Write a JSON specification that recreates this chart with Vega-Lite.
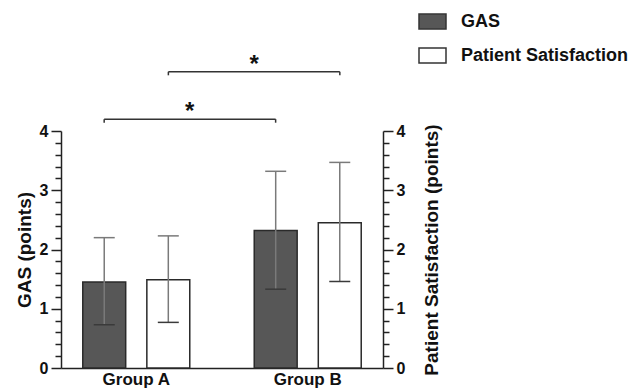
{
  "$schema": "https://vega.github.io/schema/vega-lite/v6.json",
  "width": 322,
  "height": 237,
  "autosize": {"type": "none"},
  "padding": {"left": 61, "top": 131, "right": 255, "bottom": 21},
  "background": "white",
  "config": {"view": {"stroke": null}, "font": "Liberation Sans"},
  "datasets": {
    "bars": [
      {"group": "Group A", "measure": "GAS", "mean": 1.45, "lo": 0.73, "hi": 2.2},
      {"group": "Group A", "measure": "Patient Satisfaction", "mean": 1.49, "lo": 0.77, "hi": 2.23},
      {"group": "Group B", "measure": "GAS", "mean": 2.32, "lo": 1.33, "hi": 3.32},
      {"group": "Group B", "measure": "Patient Satisfaction", "mean": 2.45, "lo": 1.46, "hi": 3.47}
    ],
    "brGAS": [{"from": "Group A", "to": "Group B", "y": 4.2, "yEnd": 4.14}],
    "brGASends": [{"g": "Group A", "y": 4.2, "yEnd": 4.14}, {"g": "Group B", "y": 4.2, "yEnd": 4.14}],
    "brPS": [{"from": "Group A", "to": "Group B", "y": 5.0, "yEnd": 4.94}],
    "brPSends": [{"g": "Group A", "y": 5.0, "yEnd": 4.94}, {"g": "Group B", "y": 5.0, "yEnd": 4.94}]
  },
  "layer": [
    {
      "layer": [
        {
          "data": {"name": "bars"},
          "mark": {"type": "bar", "stroke": "#2a2a2a", "strokeWidth": 1.5},
          "encoding": {
            "x": {
              "field": "group", "type": "nominal", "title": null,
              "scale": {"paddingInner": 0.376, "paddingOuter": 0.127},
              "axis": {"domainColor": "#222", "domainWidth": 1.5, "ticks": false, "labelFontSize": 17, "labelFontWeight": "bold", "labelPadding": 3, "labelAngle": 0, "labelColor": "#111", "labelFont": "Liberation Sans"}
            },
            "xOffset": {
              "field": "measure", "type": "nominal", "sort": ["GAS", "Patient Satisfaction"],
              "scale": {"paddingInner": 0.33, "paddingOuter": 0}
            },
            "y": {
              "field": "mean", "type": "quantitative", "title": "GAS (points)",
              "scale": {"domain": [0, 4], "nice": false},
              "axis": {
                "values": [0, 1, 2, 3, 4], "format": "d",
                "labelOverlap": false, "labelFlush": false,
                "tickSize": 10,
                "grid": false, "domainColor": "#222", "domainWidth": 1.5, "tickColor": "#222", "tickWidth": 1.5,
                "labelFont": "Liberation Sans", "labelFontSize": 16, "labelFontWeight": "bold", "labelColor": "#111", "labelPadding": 3,
                "titleFont": "Liberation Sans", "titleFontSize": 19, "titleFontWeight": "bold", "titleColor": "#111", "titlePadding": 5
              }
            },
            "fill": {
              "field": "measure", "type": "nominal",
              "scale": {"domain": ["GAS", "Patient Satisfaction"], "range": ["#575757", "#ffffff"]},
              "legend": {
                "orient": "none", "legendX": 357, "legendY": -124, "title": null,
                "symbolType": "M-1,-0.55H1V0.55H-1Z", "symbolSize": 729,
                "symbolStrokeColor": "#333", "symbolStrokeWidth": 1.5,
                "labelFont": "Liberation Sans", "labelFontSize": 18, "labelFontWeight": "bold", "labelColor": "#111",
                "labelLimit": 400,
                "rowPadding": 9, "labelOffset": 14, "padding": 0
              }
            }
          }
        },
        {
          "data": {"name": "bars"},
          "mark": {"type": "rule", "color": "#7a7a7a", "strokeWidth": 1.5},
          "encoding": {
            "x": {"field": "group", "type": "nominal", "title": null},
            "xOffset": {"field": "measure", "type": "nominal", "sort": ["GAS", "Patient Satisfaction"]},
            "y": {"field": "lo", "type": "quantitative", "title": "GAS (points)"},
            "y2": {"field": "hi"}
          }
        },
        {
          "data": {"name": "bars"},
          "mark": {"type": "tick", "orient": "horizontal", "size": 21, "thickness": 1.5, "color": "#7a7a7a", "opacity": 1},
          "encoding": {
            "x": {"field": "group", "type": "nominal", "title": null},
            "xOffset": {"field": "measure", "type": "nominal", "sort": ["GAS", "Patient Satisfaction"]},
            "y": {"field": "hi", "type": "quantitative", "title": "GAS (points)"}
          }
        },
        {
          "data": {"name": "bars"},
          "mark": {"type": "tick", "orient": "horizontal", "size": 21, "thickness": 1.5, "color": "#3a3a3a", "opacity": 1},
          "encoding": {
            "x": {"field": "group", "type": "nominal", "title": null},
            "xOffset": {"field": "measure", "type": "nominal", "sort": ["GAS", "Patient Satisfaction"]},
            "y": {"field": "lo", "type": "quantitative", "title": "GAS (points)"}
          }
        },
        {
          "data": {"name": "brGAS"},
          "mark": {"type": "rule", "color": "#333", "strokeWidth": 1.5},
          "encoding": {
            "x": {"field": "from", "type": "nominal", "bandPosition": 0.2, "title": null},
            "x2": {"field": "to", "bandPosition": 0.2},
            "y": {"field": "y", "type": "quantitative", "title": "GAS (points)"}
          }
        },
        {
          "data": {"name": "brGASends"},
          "mark": {"type": "rule", "color": "#333", "strokeWidth": 1.5},
          "encoding": {
            "x": {"field": "g", "type": "nominal", "bandPosition": 0.2, "title": null},
            "y": {"field": "y", "type": "quantitative", "title": "GAS (points)"},
            "y2": {"field": "yEnd"}
          }
        },
        {
          "data": {"name": "brGAS"},
          "mark": {"type": "text", "text": "*", "fontSize": 24, "fontWeight": "bold", "baseline": "alphabetic", "color": "#111", "font": "Liberation Sans"},
          "encoding": {
            "x": {"field": "from", "type": "nominal", "bandPosition": 1, "title": null},
            "y": {"field": "y", "type": "quantitative", "title": "GAS (points)"}
          }
        },
        {
          "data": {"name": "brPS"},
          "mark": {"type": "rule", "color": "#333", "strokeWidth": 1.5},
          "encoding": {
            "x": {"field": "from", "type": "nominal", "bandPosition": 0.8, "title": null},
            "x2": {"field": "to", "bandPosition": 0.8},
            "y": {"field": "y", "type": "quantitative", "title": "GAS (points)"}
          }
        },
        {
          "data": {"name": "brPSends"},
          "mark": {"type": "rule", "color": "#333", "strokeWidth": 1.5},
          "encoding": {
            "x": {"field": "g", "type": "nominal", "bandPosition": 0.8, "title": null},
            "y": {"field": "y", "type": "quantitative", "title": "GAS (points)"},
            "y2": {"field": "yEnd"}
          }
        },
        {
          "data": {"name": "brPS"},
          "mark": {"type": "text", "text": "*", "fontSize": 24, "fontWeight": "bold", "baseline": "alphabetic", "color": "#111", "font": "Liberation Sans"},
          "encoding": {
            "x": {"field": "to", "type": "nominal", "bandPosition": 0, "title": null},
            "y": {"field": "y", "type": "quantitative", "title": "GAS (points)"}
          }
        }
      ]
    },
    {
      "data": {"name": "bars"},
      "mark": {"type": "tick", "opacity": 0},
      "encoding": {
        "y": {
          "field": "mean", "type": "quantitative", "title": null,
          "scale": {"domain": [0, 4], "nice": false},
          "axis": {
            "orient": "left",
            "values": [0.2, 0.4, 0.6, 0.8, 1.2, 1.4, 1.6, 1.8, 2.2, 2.4, 2.6, 2.8, 3.2, 3.4, 3.6, 3.8],
            "labels": false, "domain": false, "grid": false,
            "tickSize": 6, "tickColor": "#222", "tickWidth": 1.5
          }
        }
      }
    },
    {
      "data": {"name": "bars"},
      "mark": {"type": "tick", "opacity": 0},
      "encoding": {
        "y": {
          "field": "mean", "type": "quantitative", "title": null,
          "scale": {"domain": [0, 4], "nice": false},
          "axis": {
            "orient": "right",
            "values": [0.2, 0.4, 0.6, 0.8, 1.2, 1.4, 1.6, 1.8, 2.2, 2.4, 2.6, 2.8, 3.2, 3.4, 3.6, 3.8],
            "labels": false, "domain": false, "grid": false,
            "tickSize": 6, "tickColor": "#222", "tickWidth": 1.5
          }
        }
      }
    },
    {
      "data": {"name": "bars"},
      "mark": {"type": "tick", "opacity": 0},
      "encoding": {
        "y": {
          "field": "mean", "type": "quantitative", "title": "Patient Satisfaction (points)",
          "scale": {"domain": [0, 4], "nice": false},
          "axis": {
            "orient": "right",
            "values": [0, 1, 2, 3, 4], "format": "d",
            "labelOverlap": false, "labelFlush": false,
            "tickSize": 10,
            "grid": false, "domainColor": "#222", "domainWidth": 1.5, "tickColor": "#222", "tickWidth": 1.5,
            "labelFont": "Liberation Sans", "labelFontSize": 16, "labelFontWeight": "bold", "labelColor": "#111", "labelPadding": 3,
            "titleFont": "Liberation Sans", "titleFontSize": 19, "titleFontWeight": "bold", "titleColor": "#111",
            "titlePadding": 18, "titleAngle": 270, "titleBaseline": "top"
          }
        }
      }
    }
  ],
  "resolve": {"scale": {"y": "independent"}}
}
